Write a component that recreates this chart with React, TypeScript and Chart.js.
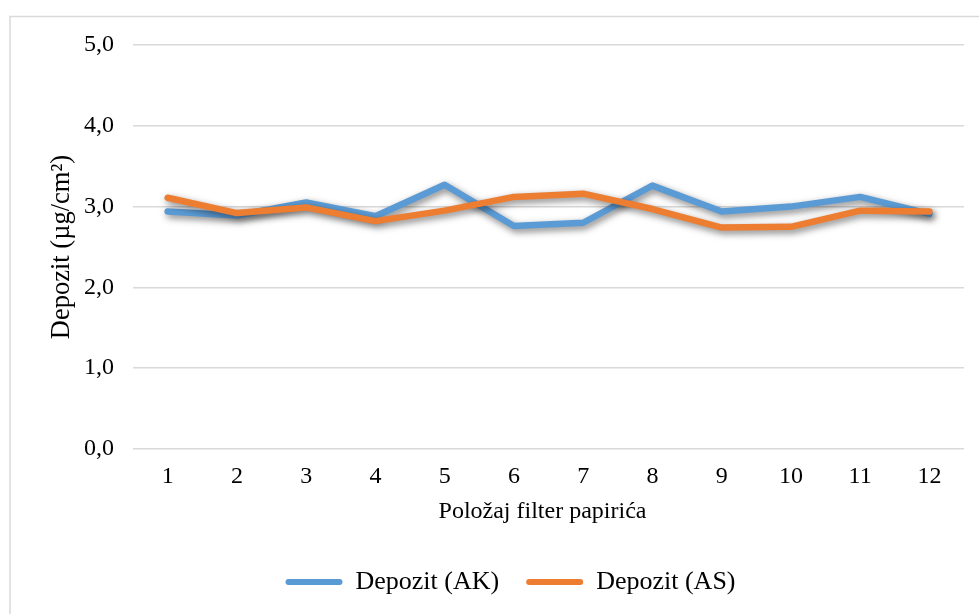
import React, { useEffect, useRef } from 'react';
import { Chart, registerables } from 'chart.js';

Chart.register(...registerables);

const categories = ['1', '2', '3', '4', '5', '6', '7', '8', '9', '10', '11', '12'];
const depozitAK = [2.94, 2.89, 3.05, 2.88, 3.27, 2.76, 2.8, 3.26, 2.94, 3.0, 3.12, 2.91];
const depozitAS = [3.11, 2.92, 2.99, 2.82, 2.95, 3.12, 3.16, 2.97, 2.74, 2.75, 2.95, 2.94];
const yTickLabels = ['0,0', '1,0', '2,0', '3,0', '4,0', '5,0'];
const seriesNames = ['Depozit (AK)', 'Depozit (AS)'];
const seriesColors = ['#5B9BD5', '#ED7D31'];
const xTitle = 'Položaj filter papirića\u00A0\u00A0';
const yTitle = 'Depozit (µg/cm²)';

const FONT = "'Liberation Serif', 'Times New Roman', serif";

const framePlugin = {
  id: 'framePlugin',
  beforeDraw(chart: any) {
    const ctx = chart.ctx;
    ctx.save();
    ctx.fillStyle = '#ffffff';
    ctx.fillRect(0, 0, chart.width, chart.height);
    ctx.strokeStyle = '#d9d9d9';
    ctx.lineWidth = 1.5;
    ctx.strokeRect(10, 16.5, chart.width + 40, chart.height + 40);
    ctx.restore();
  },
  beforeDatasetsDraw(chart: any) {
    const ctx = chart.ctx;
    ctx.save();
    ctx.shadowColor = 'rgba(0,0,0,0.5)';
    ctx.shadowBlur = 7;
    ctx.shadowOffsetX = 2;
    ctx.shadowOffsetY = 3;
  },
  afterDatasetsDraw(chart: any) {
    chart.ctx.restore();
  },
};

export default function App() {
  const canvasRef = useRef<HTMLCanvasElement | null>(null);

  useEffect(() => {
    document.body.style.margin = '0';
    const canvas = canvasRef.current;
    if (!canvas) return;
    const chart = new Chart(canvas, {
      type: 'line',
      data: {
        labels: categories,
        datasets: [
          {
            label: seriesNames[0],
            data: depozitAK,
            borderColor: seriesColors[0],
            backgroundColor: seriesColors[0],
            borderWidth: 6.5,
            pointRadius: 0,
            pointHoverRadius: 0,
            tension: 0,
            borderCapStyle: 'round',
            borderJoinStyle: 'round',
            order: 1,
          },
          {
            label: seriesNames[1],
            data: depozitAS,
            borderColor: seriesColors[1],
            backgroundColor: seriesColors[1],
            borderWidth: 6.5,
            pointRadius: 0,
            pointHoverRadius: 0,
            tension: 0,
            borderCapStyle: 'round',
            borderJoinStyle: 'round',
            order: 0,
          },
        ],
      },
      options: {
        animation: false,
        responsive: true,
        maintainAspectRatio: false,
        layout: { padding: { left: 57, right: 15, top: 45, bottom: 9 } },
        plugins: {
          tooltip: { enabled: false },
          legend: {
            position: 'bottom',
            labels: {
              color: '#000',
              font: { family: FONT, size: 26 },
              boxWidth: 57,
              boxHeight: 6,
              padding: 27,
              useBorderRadius: true,
              borderRadius: 3,
              generateLabels: (ch: any) =>
                ch.data.datasets.map((ds: any, i: number) => ({
                  text: ds.label,
                  fillStyle: ds.borderColor,
                  strokeStyle: ds.borderColor,
                  lineWidth: 0,
                  fontColor: '#000',
                  hidden: !ch.isDatasetVisible(i),
                  datasetIndex: i,
                  borderRadius: 3,
                })),
            },
          },
        },
        scales: {
          x: {
            offset: true,
            grid: { display: false, drawTicks: false, offset: true },
            border: { display: false },
            ticks: { color: '#000', font: { family: FONT, size: 24 }, padding: 13 },
            title: {
              display: true,
              text: xTitle,
              color: '#000',
              font: { family: FONT, size: 24 },
              padding: { top: 0, bottom: 16 },
            },
            afterFit(scale: any) {
              scale.height = 93;
            },
          },
          y: {
            min: 0,
            max: 5,
            grid: { color: '#d9d9d9', lineWidth: 1.5, drawTicks: false },
            border: { display: false },
            ticks: {
              stepSize: 1,
              color: '#000',
              font: { family: FONT, size: 24 },
              padding: 19,
              callback: (v: any) => yTickLabels[Math.round(Number(v))],
            },
            title: {
              display: true,
              text: yTitle,
              color: '#000',
              font: { family: FONT, size: 26.5 },
              padding: { top: -11, bottom: 0 },
            },
            afterFit(scale: any) {
              scale.width = 76;
            },
          },
        },
      },
      plugins: [framePlugin],
    });
    return () => chart.destroy();
  }, []);

  return (
    <div style={{ width: '979px', height: '614px', position: 'relative' }}>
      <canvas ref={canvasRef} />
    </div>
  );
}
